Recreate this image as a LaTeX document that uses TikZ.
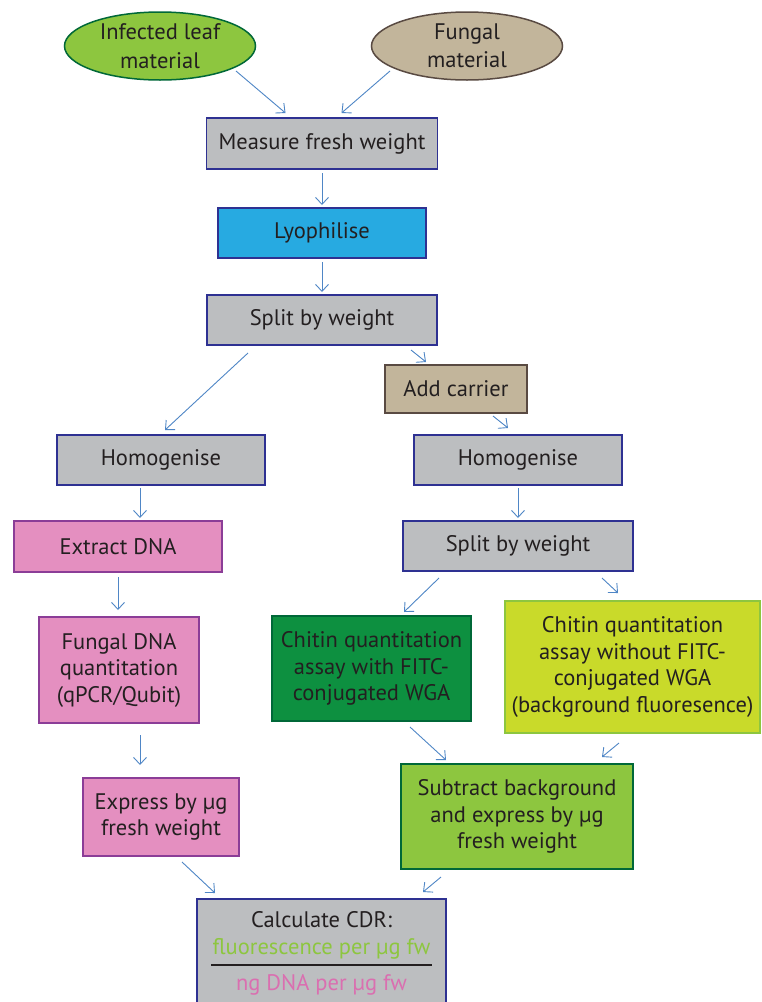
\documentclass[tikz,border=0pt]{standalone}
\usepackage{fontspec}
\setmainfont{PT Sans}
\usepackage{xcolor}
\usepackage{tikz}
\usetikzlibrary{arrows.meta,shapes.geometric}

\definecolor{boxgrey}{HTML}{BCBEC0}
\definecolor{boxblue}{HTML}{2E3192}
\definecolor{lyocyan}{HTML}{27AAE1}
\definecolor{tanfill}{HTML}{C2B59B}
\definecolor{tanline}{HTML}{594A42}
\definecolor{pinkfill}{HTML}{E48FC0}
\definecolor{pinkline}{HTML}{8B3D97}
\definecolor{darkgreen}{HTML}{0D9040}
\definecolor{greenline}{HTML}{006838}
\definecolor{limefill}{HTML}{C9DA2A}
\definecolor{leafgreen}{HTML}{8DC63F}
\definecolor{arrowblue}{HTML}{4F86C6}
\definecolor{inkblack}{HTML}{231F20}
\definecolor{dnapink}{HTML}{DA6FB0}

\tikzset{
  stage/.style={rectangle, draw=boxblue, fill=boxgrey, line width=1.6pt,
    align=center, inner sep=2pt, outer sep=0pt, text=inkblack,
    font=\fontsize{22.5}{26.5}\selectfont},
  source/.style={ellipse, line width=1.5pt, align=center, inner sep=0pt,
    outer sep=0pt, text=inkblack, minimum width=191pt, minimum height=68pt,
    font=\fontsize{22.5}{28.5}\selectfont},
  flow/.style={draw=arrowblue, line width=0.9pt,
    -{Straight Barb[length=7pt,width=13pt]}},
}

\begin{document}
\begin{tikzpicture}[x=1pt,y=-1pt]
  \path[use as bounding box, fill=white] (0,0) rectangle (761,1002);

  % sources
  \node[source, fill=leafgreen, draw=greenline] (leaf) at (160,46) {Infected leaf\\material};
  \node[source, fill=tanfill, draw=tanline] (fungal) at (467,46) {Fungal\\material};

  % main column
  \node[stage, minimum width=231pt, minimum height=51pt] (measure) at (322,143.5) {Measure fresh weight};
  \node[stage, fill=lyocyan, minimum width=208pt, minimum height=50pt] (lyo) at (322,233) {Lyophilise};
  \node[stage, minimum width=230pt, minimum height=50pt] (split) at (322,320) {Split by weight};
  \node[stage, fill=tanfill, draw=tanline, minimum width=142pt, minimum height=48pt] (carrier) at (456,389) {Add carrier};

  % DNA branch
  \node[stage, minimum width=208pt, minimum height=50pt] (homogdna) at (161,460) {Homogenise};
  \node[stage, fill=pinkfill, draw=pinkline, minimum width=208pt, minimum height=51pt] (extract) at (118,546.5) {Extract DNA};
  \node[stage, fill=pinkfill, draw=pinkline, minimum width=160pt, minimum height=106pt] (dnaquant) at (119,670) {Fungal DNA\\quantitation\\(qPCR/Qubit)};
  \node[stage, fill=pinkfill, draw=pinkline, minimum width=156pt, minimum height=78pt] (dnaexpress) at (161,817) {Express by µg\\fresh weight};

  % chitin branch
  \node[stage, minimum width=208pt, minimum height=50pt] (homogchitin) at (518,460) {Homogenise};
  \node[stage, minimum width=230pt, minimum height=50pt] (splitchitin) at (518,546) {Split by weight};
  \node[stage, fill=darkgreen, draw=greenline, minimum width=199pt, minimum height=105pt] (withwga) at (371.5,668.5) {Chitin quantitation\\assay with FITC-\\conjugated WGA};
  \node[stage, fill=limefill, draw=leafgreen, inner sep=0pt, minimum width=255pt, minimum height=132pt] (nowga) at (632.5,667) {Chitin quantitation\\assay without FITC-\\conjugated WGA\\(background fluoresence)};
  \node[stage, fill=leafgreen, draw=greenline, minimum width=232pt, minimum height=105pt] (subtract) at (517,816.5) {Subtract background\\and express by µg\\fresh weight};

  % result
  \node[stage, minimum width=249pt, minimum height=114pt] (cdr) at (321.5,956) {};
  \node[text=inkblack, font=\fontsize{22.5}{26.5}\selectfont, anchor=base] (cdrtitle) at (321.5,927) {Calculate CDR:};
  \node[text=leafgreen, font=\fontsize{22.5}{26.5}\selectfont, anchor=base, inner sep=1pt] (cdrnum) at (321.5,954) {fluorescence per µg fw};
  \node[text=dnapink, font=\fontsize{22.5}{26.5}\selectfont, anchor=base] (cdrden) at (321.5,990) {ng DNA per µg fw};
  \draw[inkblack, line width=1.2pt] ([yshift=-11pt]cdrnum.base west) -- ([yshift=-11pt]cdrnum.base east);

  % arrows
  \draw[flow] ([xshift=76pt,yshift=-25pt]leaf.center) -- ([xshift=-36.5pt,yshift=5pt]measure.north);
  \draw[flow] ([xshift=-77pt,yshift=-25pt]fungal.center) -- ([xshift=19.5pt,yshift=5pt]measure.north);
  \draw[flow] ([yshift=-4pt]measure.south) -- ([yshift=3pt]lyo.north);
  \draw[flow] ([yshift=-4pt]lyo.south) -- ([yshift=3pt]split.north);
  \draw[flow] ([xshift=-74pt,yshift=-8pt]split.south) -- ([xshift=4pt,yshift=5pt]homogdna.north);
  \draw[flow] ([xshift=-26pt,yshift=-5pt]split.south east) -- ([xshift=-30pt,yshift=3pt]carrier.north);
  \draw[flow] ([xshift=37pt,yshift=-3pt]carrier.south) -- ([xshift=-10pt,yshift=7pt]homogchitin.north);
  \draw[flow] ([xshift=-21pt,yshift=-3pt]homogdna.south) -- ([xshift=22pt,yshift=3pt]extract.north);
  \draw[flow] ([yshift=-3pt]homogchitin.south) -- ([yshift=3pt]splitchitin.north);
  \draw[flow] ([yshift=-5pt]extract.south) -- ([xshift=-1pt,yshift=7pt]dnaquant.north);
  \draw[flow] ([xshift=21pt,yshift=-12pt]dnaquant.south) -- ([xshift=-21pt,yshift=13pt]dnaexpress.north);
  \draw[flow] ([xshift=-79pt,yshift=-7pt]splitchitin.south) -- ([xshift=32.5pt,yshift=4pt]withwga.north);
  \draw[flow] ([xshift=84pt,yshift=-7pt]splitchitin.south) -- ([xshift=-14.5pt,yshift=8pt]nowga.north);
  \draw[flow] ([xshift=38.5pt,yshift=-6pt]withwga.south) -- ([xshift=-71pt,yshift=4pt]subtract.north);
  \draw[flow] ([xshift=-13.5pt,yshift=-10pt]nowga.south) -- ([xshift=85pt,yshift=7pt]subtract.north);
  \draw[flow] ([xshift=21pt,yshift=-6pt]dnaexpress.south) -- ([xshift=-106.5pt,yshift=6pt]cdr.north);
  \draw[flow] ([xshift=-76pt,yshift=-8pt]subtract.south) -- ([xshift=101.5pt,yshift=7pt]cdr.north);
\end{tikzpicture}
\end{document}
